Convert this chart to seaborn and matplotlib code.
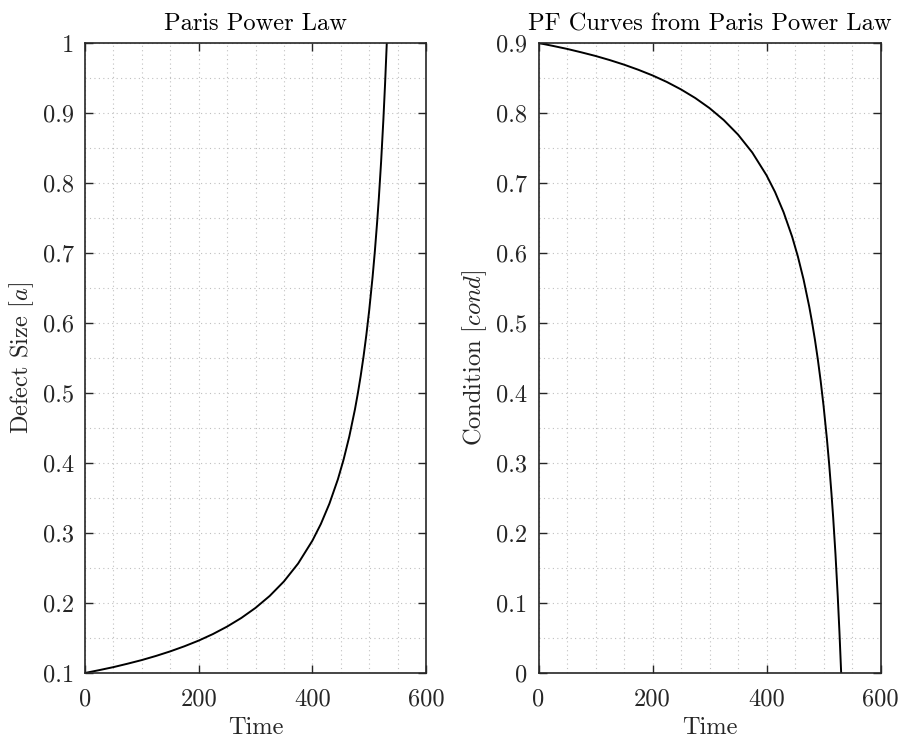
import matplotlib
matplotlib.use("Agg")
import matplotlib.pyplot as plt
from matplotlib.ticker import MultipleLocator, FuncFormatter
import seaborn as sns
import pandas as pd

# ---- data ----
time_a = [0, 25, 50, 75, 100, 125, 150, 175, 200, 225, 250, 275, 300, 325,
          350, 375, 400, 415, 430, 445, 455, 465, 475, 480, 485, 490, 495,
          500, 506, 510, 514, 517, 521, 525, 528, 531]
defect = [0.1000, 0.1041, 0.1084, 0.1133, 0.1185, 0.1244, 0.1309, 0.1382,
          0.1463, 0.1556, 0.1663, 0.1786, 0.1930, 0.2101, 0.2308, 0.2564,
          0.2889, 0.3129, 0.3418, 0.3768, 0.4049, 0.4377, 0.4767, 0.4992,
          0.5240, 0.5516, 0.5827, 0.6176, 0.6656, 0.7024, 0.7439, 0.7782,
          0.8301, 0.8904, 0.9419, 1.0000]

time_c = [0, 25, 50, 75, 100, 125, 150, 175, 200, 225, 250, 275, 300, 325,
          350, 375, 400, 415, 430, 445, 455, 465, 475, 480, 485, 490, 495,
          500, 506, 510, 514, 517, 521, 525, 528, 531]
cond = [0.9000, 0.8959, 0.8916, 0.8867, 0.8815, 0.8756, 0.8691, 0.8618,
        0.8537, 0.8444, 0.8337, 0.8214, 0.8070, 0.7899, 0.7692, 0.7436,
        0.7111, 0.6871, 0.6582, 0.6232, 0.5951, 0.5623, 0.5233, 0.5008,
        0.4760, 0.4484, 0.4173, 0.3824, 0.3344, 0.2976, 0.2561, 0.2218,
        0.1699, 0.1096, 0.0581, 0.0000]

x_ticks = [0, 200, 400, 600]
left_title = "Paris Power Law"
right_title = "PF Curves from Paris Power Law"
left_ylabel = r"Defect Size $[a]$"
right_ylabel = r"Condition $[cond]$"
xlabel = "Time"

df_a = pd.DataFrame({"Time": time_a, "a": defect})
df_c = pd.DataFrame({"Time": time_c, "cond": cond})

sns.set_style("ticks")
plt.rcParams["font.family"] = ["cmr10", "DejaVu Serif"]
plt.rcParams["mathtext.fontset"] = "cm"
plt.rcParams["axes.unicode_minus"] = False
plt.rcParams["axes.formatter.use_mathtext"] = True

AX_COL = "#262626"
FS = 17.6

fig = plt.figure(figsize=(9.01, 7.38), dpi=100)
ax1 = fig.add_axes([85 / 901, 1 - 673 / 738, 341 / 901, 630 / 738])
ax2 = fig.add_axes([538.5 / 901, 1 - 673 / 738, 342 / 901, 630 / 738])

sns.lineplot(data=df_a, x="Time", y="a", ax=ax1, color="black", linewidth=1.4)
sns.lineplot(data=df_c, x="Time", y="cond", ax=ax2, color="black", linewidth=1.4)

fmt = FuncFormatter(lambda v, p: f"{v:.10g}" if abs(v) > 1e-9 else "0")

for ax, ylim, title, ylab, lpad in [(ax1, (0.1, 1.0), left_title, left_ylabel, 5),
                                    (ax2, (0.0, 0.9), right_title, right_ylabel, 5)]:
    ax.set_xlim(0, 600)
    ax.set_ylim(*ylim)
    ax.set_xticks(x_ticks)
    ax.yaxis.set_major_locator(MultipleLocator(0.1))
    ax.xaxis.set_minor_locator(MultipleLocator(50))
    ax.yaxis.set_minor_locator(MultipleLocator(0.05))
    ax.xaxis.set_major_formatter(fmt)
    ax.yaxis.set_major_formatter(fmt)
    ax.tick_params(which="major", direction="in", length=5.5, width=1.0,
                   color=AX_COL, labelcolor=AX_COL, labelsize=FS,
                   top=True, right=True, pad=8)
    ax.tick_params(axis="x", which="major", pad=11)
    ax.tick_params(which="minor", length=0, top=True, right=True)
    ax.grid(True, which="both", linestyle=(0, (1, 3)), color="#c0c0c0",
            linewidth=0.8)
    ax.set_axisbelow(True)
    for s in ax.spines.values():
        s.set_visible(True)
        s.set_color(AX_COL)
        s.set_linewidth(1.2)
    ax.set_title(title, fontsize=FS, color="black", pad=9)
    ax.set_xlabel(xlabel, fontsize=FS, color=AX_COL, labelpad=5)
    ax.set_ylabel(ylab, fontsize=FS, color=AX_COL, labelpad=lpad)

fig.savefig("out.png", dpi=100, facecolor="white")
